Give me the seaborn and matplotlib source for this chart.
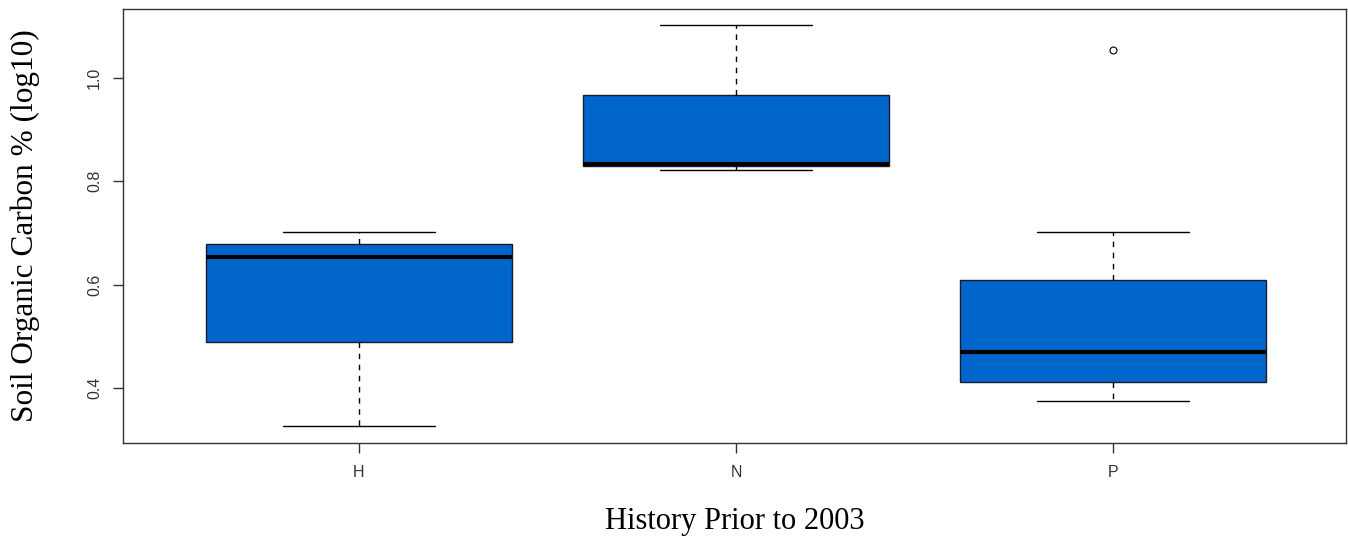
import numpy as np
import pandas as pd
import matplotlib
matplotlib.use("Agg")
import matplotlib.pyplot as plt
import seaborn as sns

# Soil organic carbon (log10 %) by land-use history prior to 2003
history_levels = ["H", "N", "P"]
soc_H = [0.327, 0.490, 0.654, 0.679, 0.702]
soc_N = [0.822, 0.830, 0.834, 0.967, 1.102]
soc_P = [0.374, 0.392, 0.411, 0.440, 0.470, 0.545, 0.610, 0.702, 1.054]
y_ticks = [0.4, 0.6, 0.8, 1.0]

df = pd.DataFrame({
    "history": ["H"] * len(soc_H) + ["N"] * len(soc_N) + ["P"] * len(soc_P),
    "soc": soc_H + soc_N + soc_P,
})

sns.set_theme(style="white")
plt.rcParams["font.family"] = ["Liberation Sans", "DejaVu Sans"]

fig = plt.figure(figsize=(13.48, 5.36), dpi=100)
ax = fig.add_axes([0.0912, 0.1735, 0.9073, 0.8097])

edge = "#1a1a2e"
sns.boxplot(
    data=df, x="history", y="soc", order=history_levels, ax=ax,
    color="#0066CC", saturation=1, width=0.81, whis=1.5,
    linecolor="black", linewidth=1,
    boxprops=dict(edgecolor=edge, linewidth=1),
    medianprops=dict(color="black", linewidth=3, solid_capstyle="butt"),
    whiskerprops=dict(color="black", linewidth=1, linestyle=(0, (4, 4))),
    capprops=dict(color="black", linewidth=1),
    flierprops=dict(marker="o", markerfacecolor="none", markeredgecolor="black",
                    markersize=5, markeredgewidth=0.8),
    capwidths=0.405,
)

ax.set_xlim(-0.626, 2.618)
ax.set_ylim(0.2937, 1.1333)
ax.set_yticks(y_ticks)
ax.set_yticklabels([f"{v:.1f}" for v in y_ticks], rotation=90, va="center")

for s in ax.spines.values():
    s.set_visible(True)
    s.set_color("#333333")
    s.set_linewidth(1)

ax.tick_params(axis="both", which="major", direction="out", length=7, width=1,
               color="#333333", labelcolor="#333333", labelsize=11.5,
               bottom=True, left=True)
ax.tick_params(axis="x", pad=9)
ax.tick_params(axis="y", pad=8)

ax.set_xlabel("History Prior to 2003", fontfamily="Liberation Serif",
              fontsize=22, color="black", labelpad=19)
ax.set_ylabel("Soil Organic Carbon % (log10)", fontfamily="Liberation Serif",
              fontsize=22.5, color="black", labelpad=34)

fig.savefig("out.png", dpi=100, facecolor="white")
